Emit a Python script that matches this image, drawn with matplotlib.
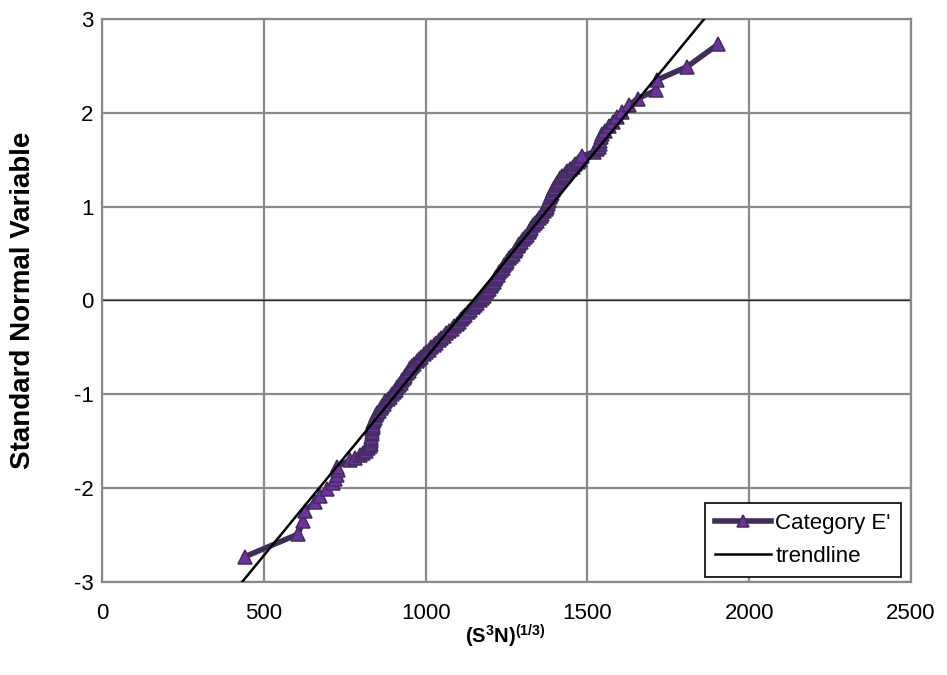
import matplotlib
matplotlib.use("Agg")
import matplotlib.pyplot as plt

plt.rcParams['font.family'] = ['Liberation Sans', 'DejaVu Sans']
plt.rcParams['mathtext.fontset'] = 'custom'
plt.rcParams['mathtext.rm'] = 'Liberation Sans'
plt.rcParams['mathtext.bf'] = 'Liberation Sans:bold'
plt.rcParams['axes.unicode_minus'] = False

# Data: (S^3N)^(1/3) vs standard normal variable
x_vals = [442, 606, 621, 627, 658, 674, 695, 714, 720, 726, 729, 726,
          767, 781, 796, 807, 816, 823, 828, 830, 830, 831, 832, 833,
          834, 835, 836, 837, 838, 841, 845, 848, 851, 856, 861, 865,
          870, 876, 883, 890, 897, 903, 908, 913, 918, 923, 927, 932,
          937, 942, 948, 953, 958, 965, 972, 979, 986, 994, 1002, 1010,
          1018, 1026, 1033, 1040, 1047, 1056, 1064, 1072, 1081, 1088, 1096, 1102,
          1109, 1116, 1123, 1130, 1138, 1145, 1153, 1160, 1167, 1173, 1179, 1185,
          1191, 1196, 1201, 1205, 1210, 1214, 1219, 1223, 1228, 1233, 1238, 1242,
          1247, 1253, 1259, 1265, 1271, 1275, 1280, 1285, 1290, 1296, 1302, 1308,
          1314, 1318, 1323, 1327, 1332, 1338, 1344, 1350, 1356, 1361, 1366, 1371,
          1375, 1377, 1379, 1381, 1384, 1387, 1391, 1394, 1398, 1402, 1407, 1411,
          1416, 1423, 1430, 1438, 1445, 1454, 1462, 1470, 1477, 1483, 1520, 1530,
          1535, 1538, 1540, 1542, 1545, 1555, 1568, 1578, 1590, 1607, 1628, 1655,
          1712, 1715, 1808, 1904]
y_vals = [-2.73, -2.49, -2.35, -2.24, -2.15, -2.08, -2.01, -1.95, -1.90, -1.86, -1.81, -1.77,
          -1.700, -1.675, -1.650, -1.625, -1.600, -1.575, -1.550, -1.525, -1.500, -1.475, -1.450, -1.425,
          -1.400, -1.375, -1.350, -1.325, -1.300, -1.275, -1.250, -1.225, -1.200, -1.175, -1.150, -1.125,
          -1.100, -1.075, -1.050, -1.025, -1.000, -0.975, -0.950, -0.925, -0.900, -0.875, -0.850, -0.825,
          -0.800, -0.775, -0.750, -0.725, -0.700, -0.675, -0.650, -0.625, -0.600, -0.575, -0.550, -0.525,
          -0.500, -0.475, -0.450, -0.425, -0.400, -0.375, -0.350, -0.325, -0.300, -0.275, -0.250, -0.225,
          -0.200, -0.175, -0.150, -0.125, -0.100, -0.075, -0.050, -0.025, 0.000, 0.025, 0.050, 0.075,
          0.100, 0.125, 0.150, 0.175, 0.200, 0.225, 0.250, 0.275, 0.300, 0.325, 0.350, 0.375,
          0.400, 0.425, 0.450, 0.475, 0.500, 0.525, 0.550, 0.575, 0.600, 0.625, 0.650, 0.675,
          0.700, 0.725, 0.750, 0.775, 0.800, 0.825, 0.850, 0.875, 0.900, 0.925, 0.950, 0.975,
          1.000, 1.025, 1.050, 1.075, 1.100, 1.125, 1.150, 1.175, 1.200, 1.225, 1.250, 1.275,
          1.300, 1.325, 1.350, 1.375, 1.400, 1.425, 1.450, 1.475, 1.500, 1.54, 1.58, 1.61,
          1.64, 1.67, 1.70, 1.74, 1.77, 1.81, 1.86, 1.90, 1.95, 2.01, 2.08, 2.15,
          2.24, 2.35, 2.49, 2.73]

# Trendline (fitted normal: mean and standard deviation)
trend_mean = 1147
trend_std = 238
trend_y = [-3.0, 3.0]
trend_x = [trend_mean + trend_std * v for v in trend_y]

x_ticks = [0, 500, 1000, 1500, 2000, 2500]
y_ticks = [-3, -2, -1, 0, 1, 2, 3]

fig = plt.figure(figsize=(9.47, 6.75), dpi=100)
ax = fig.add_axes([0.1077, 0.1378, 0.8543, 0.8342])

grid_c = '#8a8a8a'
ax.set_xlim(0, 2500)
ax.set_ylim(-3, 3)
ax.set_xticks(x_ticks)
ax.set_yticks(y_ticks)
ax.grid(True, color=grid_c, linewidth=1.6)
ax.set_axisbelow(True)
ax.axhline(0, color='#303030', linewidth=1.0, zorder=1.5)
for s in ax.spines.values():
    s.set_color(grid_c)
    s.set_linewidth(1.6)

ax.plot(x_vals, y_vals, color='#3F2D5C', linewidth=4, marker='^',
        markersize=10, markerfacecolor='#7030A0', markeredgecolor='#3F2D5C',
        markeredgewidth=1.1, zorder=3, label="Category E'")
ax.plot(trend_x, trend_y, color='black', linewidth=1.8, zorder=4, label='trendline')

ax.tick_params(axis='y', length=0, labelsize=16, pad=6)
ax.tick_params(axis='x', length=0, labelsize=16, pad=15)

ax.set_ylabel('Standard Normal Variable', fontsize=20, fontweight='bold')
ax.yaxis.set_label_coords(-0.082, 0.5)
ax.set_xlabel(r'$\mathbf{(S^{3}N)^{(1/3)}}$', fontsize=14.5)
ax.xaxis.set_label_coords(0.498, -0.073)

leg = ax.legend(loc='lower right', bbox_to_anchor=(0.9876, 0.009), borderaxespad=0,
                fontsize=16, frameon=True, fancybox=False, edgecolor='black', framealpha=1,
                handlelength=2.5, borderpad=0.45, labelspacing=0.55, handletextpad=0.2)
leg.get_frame().set_linewidth(1.2)
for h in leg.legend_handles:
    h.set_markersize(8)

fig.savefig('out.png', dpi=100)
